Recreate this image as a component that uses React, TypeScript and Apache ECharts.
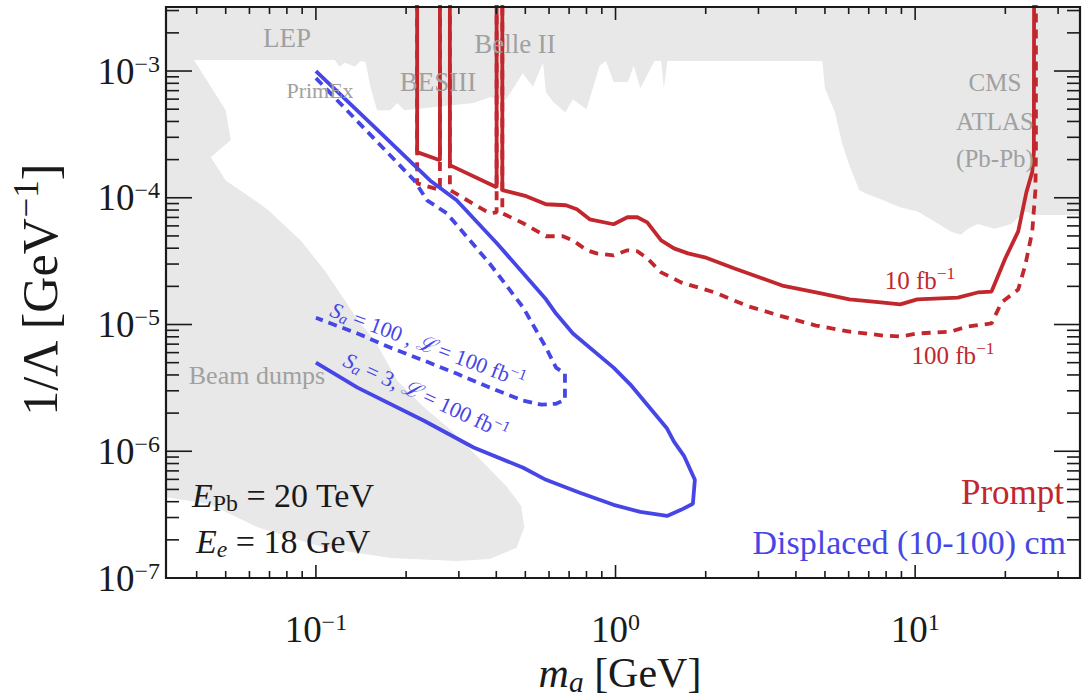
import { useEffect, useRef } from 'react';
import * as echarts from 'echarts';

const SERIF = '"Liberation Serif", "Times New Roman", serif';
const RED = '#c1272d';
const BLUE = '#4646e6';
const GRAY_FILL = '#e8e8e8';
const GRAY_TEXT = '#a0a0a0';
const INK = '#1a1a1a';

const X_MIN = 0.0316;
const X_MAX = 35.5;
const Y_MIN = 1e-7;
const Y_MAX = 3.2e-3;
const OFF_TOP = 0.02; // resonance spikes run off the top

const xMajorTicks = [0.1, 1, 10];
const xMinorTicks = [0.04, 0.05, 0.06, 0.07, 0.08, 0.09, 0.2, 0.3, 0.4, 0.5, 0.6, 0.7, 0.8, 0.9, 2, 3, 4, 5, 6, 7, 8, 9, 20, 30];
const yMajorTicks = [1e-7, 1e-6, 1e-5, 1e-4, 1e-3];
const yMinorTicks = [
  2e-7, 3e-7, 4e-7, 5e-7, 6e-7, 7e-7, 8e-7, 9e-7,
  2e-6, 3e-6, 4e-6, 5e-6, 6e-6, 7e-6, 8e-6, 9e-6,
  2e-5, 3e-5, 4e-5, 5e-5, 6e-5, 7e-5, 8e-5, 9e-5,
  2e-4, 3e-4, 4e-4, 5e-4, 6e-4, 7e-4, 8e-4, 9e-4,
  2e-3, 3e-3,
];

// Excluded region (LEP, PrimEx, BESIII, Belle II, CMS/ATLAS Pb-Pb, beam dumps)
const excludedRegion: [number, number][] = [
  [0.02, 0.005], [50, 0.005], [50, 7.3e-5], [25.2, 7.3e-5], [23.3, 7.8e-5], [20.9, 6.2e-5],
  [18.4, 5.7e-5], [16.2, 6.2e-5], [15.0, 5.7e-5], [14.2, 5.1e-5], [13.2, 5.4e-5], [11.6, 6.5e-5],
  [10.2, 7.8e-5], [8.9, 8.4e-5], [7.8, 9.6e-5], [6.9, 1.07e-4], [6.5, 1.15e-4], [6.0, 1.87e-4],
  [5.7, 2.7e-4], [5.4, 4.7e-4], [5.0, 7.3e-4], [4.9, 1.2e-3], [1.49, 1.2e-3], [1.45, 7.3e-4],
  [1.42, 1.2e-3], [1.35, 1.2e-3], [1.21, 7.3e-4], [1.15, 1.1e-3], [1.10, 8.2e-4], [0.985, 8.2e-4],
  [0.93, 1.2e-3], [0.885, 1.1e-3], [0.80, 5.0e-4], [0.72, 6.0e-4], [0.68, 4.7e-4], [0.62, 5.7e-4],
  [0.586, 6.8e-4], [0.573, 1.16e-3], [0.53, 7.5e-4], [0.49, 9.6e-4], [0.467, 8.0e-4], [0.43, 5.9e-4],
  [0.38, 6.2e-4], [0.336, 5.6e-4], [0.197, 4.9e-4], [0.187, 5.6e-4], [0.177, 4.9e-4], [0.160, 4.9e-4],
  [0.152, 7.5e-4], [0.1465, 1.18e-3], [0.141, 1.2e-3], [0.135, 1.08e-3], [0.125, 1.16e-3], [0.120, 1.08e-3],
  [0.1156, 1.22e-3], [0.0392, 1.22e-3], [0.050, 4.9e-4], [0.052, 2.85e-4], [0.0446, 2.09e-4], [0.050, 1.37e-4],
  [0.0623, 9.6e-5], [0.0693, 8.0e-5], [0.089, 4.6e-5], [0.107, 2.67e-5], [0.125, 1.55e-5], [0.138, 1.08e-5],
  [0.157, 7.5e-6], [0.187, 3.6e-6], [0.226, 2.3e-6], [0.284, 1.45e-6], [0.357, 8.4e-7], [0.4325, 5.3e-7],
  [0.4845, 3.7e-7], [0.496, 2.5e-7], [0.467, 1.73e-7], [0.38, 1.41e-7], [0.295, 1.36e-7], [0.177, 1.44e-7],
  [0.107, 1.73e-7], [0.0643, 2.5e-7], [0.0439, 3.85e-7], [0.02, 5.1e-7],
];

// Prompt, 10 fb^-1 (solid red)
const prompt10fb: [number, number][] = [
  [0.2177, OFF_TOP], [0.2177, 2.29e-4], [0.2594, 1.98e-4], [0.2594, OFF_TOP], [0.280, OFF_TOP], [0.280, 1.81e-4],
  [0.401, 1.21e-4], [0.401, OFF_TOP], [0.419, OFF_TOP], [0.419, 1.15e-4], [0.5035, 1.03e-4], [0.586, 8.89e-5],
  [0.683, 8.73e-5], [0.743, 8.11e-5], [0.820, 6.76e-5], [0.985, 6.18e-5], [1.096, 7.02e-5], [1.183, 7.02e-5],
  [1.276, 6.40e-5], [1.42, 4.61e-5], [1.567, 3.99e-5], [1.745, 3.64e-5], [1.986, 3.39e-5], [2.497, 2.77e-5],
  [3.60, 2.03e-5], [4.67, 1.79e-5], [6.04, 1.58e-5], [7.83, 1.49e-5], [8.92, 1.44e-5], [10.16, 1.58e-5],
  [13.88, 1.63e-5], [16.17, 1.79e-5], [17.99, 1.82e-5], [20.0, 3.33e-5], [22.08, 5.43e-5], [23.5, 1.1e-4],
  [24.6, 1.6e-4], [24.9, 2.3e-4], [24.97, OFF_TOP],
];

// Prompt, 100 fb^-1 (dotted red)
const prompt100fb: [number, number][] = [
  [0.2177, OFF_TOP], [0.2177, 1.30e-4], [0.2594, 1.15e-4], [0.2594, OFF_TOP], [0.280, OFF_TOP], [0.280, 1.15e-4],
  [0.380, 7.54e-5], [0.401, 7.68e-5], [0.401, OFF_TOP], [0.419, OFF_TOP], [0.419, 7.54e-5], [0.492, 6.29e-5],
  [0.586, 4.97e-5], [0.6675, 4.97e-5], [0.721, 4.61e-5], [0.802, 3.85e-5], [0.865, 3.64e-5], [0.985, 3.51e-5],
  [1.096, 3.85e-5], [1.183, 3.78e-5], [1.276, 3.33e-5], [1.42, 2.58e-5], [1.654, 2.15e-5], [2.143, 1.79e-5],
  [2.778, 1.39e-5], [3.60, 1.16e-5], [4.67, 9.81e-6], [6.04, 8.80e-6], [7.83, 8.18e-6], [8.92, 8.04e-6],
  [10.16, 8.49e-6], [13.15, 8.80e-6], [14.97, 9.64e-6], [17.99, 1.02e-5], [19.41, 1.49e-5], [22.08, 1.89e-5],
  [23.3, 2.92e-5], [24.6, 5.43e-5], [25.2, 1.15e-4], [25.3, 2.4e-4], [25.3, OFF_TOP],
];

// Displaced (10-100) cm, S_a = 3, L = 100 fb^-1 (solid blue contour)
const displacedSa3: [number, number][] = [
  [0.1, 1.0e-3], [0.1545, 3.74e-4], [0.2404, 1.37e-4], [0.295, 9.55e-5], [0.401, 4.4e-5], [0.586, 1.58e-5],
  [0.633, 1.22e-5], [0.721, 8.49e-6], [0.985, 4.57e-6], [1.121, 3.36e-6], [1.486, 1.51e-6], [1.567, 1.19e-6],
  [1.692, 9.21e-7], [1.84, 5.95e-7], [1.812, 3.85e-7], [1.654, 3.45e-7], [1.486, 3.09e-7], [1.21, 3.32e-7],
  [0.985, 3.78e-7], [0.760, 4.70e-7], [0.586, 5.95e-7], [0.492, 7.41e-7], [0.336, 1.07e-6], [0.2296, 1.74e-6],
  [0.1377, 3.18e-6], [0.1, 5.0e-6],
];

// Displaced (10-100) cm, S_a = 100, L = 100 fb^-1 (dashed blue contour)
const displacedSa100: [number, number][] = [
  [0.1, 8.8e-4], [0.213, 1.37e-4], [0.235, 9.55e-5], [0.2735, 7.54e-5], [0.380, 3.03e-5], [0.492, 1.36e-5],
  [0.586, 6.58e-6], [0.633, 4.57e-6], [0.678, 4.10e-6], [0.678, 2.55e-6], [0.633, 2.37e-6], [0.565, 2.33e-6],
  [0.492, 2.51e-6], [0.380, 3.18e-6], [0.295, 4.10e-6], [0.2296, 5.19e-6], [0.177, 6.58e-6], [0.1377, 8.49e-6],
  [0.1, 1.13e-5],
];

const supFmt = (v: number) => {
  const e = Math.log10(v);
  const r = Math.round(e);
  if (Math.abs(e - r) > 1e-6) return '';
  return `{b|10}{s|${r < 0 ? '\u2212' + -r : r}}`;
};

const tickRich = {
  b: { fontSize: 37, fontFamily: SERIF, color: INK },
  s: { fontSize: 24, fontFamily: SERIF, color: INK, padding: [0, 0, 15, 0] },
};

const mathRich = (size: number, color: string) => ({
  i: { fontSize: size, fontFamily: SERIF, fontStyle: 'italic', fill: color, color },
  sub: { fontSize: size * 0.7, fontFamily: SERIF, fill: color, color, padding: [size * 0.45, 0, 0, 0] },
  isub: { fontSize: size * 0.7, fontFamily: SERIF, fontStyle: 'italic', fill: color, color, padding: [size * 0.45, 0, 0, 0] },
  sup: { fontSize: size * 0.7, fontFamily: SERIF, fill: color, color, padding: [0, 0, size * 0.55, 0] },
  cal: { fontSize: size, fontFamily: '"DejaVu Serif", serif', fontStyle: 'italic', fill: color, color },
  n: { fontSize: size, fontFamily: SERIF, fill: color, color },
});

const label = (x: number, y: number, text: string, size: number, color: string, align = 'center', rotation = 0) => ({
  type: 'text',
  x,
  y,
  rotation,
  z: 100,
  silent: true,
  style: {
    text,
    fill: color,
    fontSize: size,
    fontFamily: SERIF,
    align,
    verticalAlign: 'middle',
    rich: mathRich(size, color),
  },
});

export default function App() {
  const ref = useRef<HTMLDivElement>(null);

  useEffect(() => {
    if (!ref.current) return;
    const chart = echarts.init(ref.current, null, { renderer: 'svg' });

    const lineBase = { type: 'line', symbol: 'none', showSymbol: false, clip: true, silent: true, z: 3 };

    chart.setOption({
      animation: false,
      backgroundColor: '#ffffff',
      grid: { left: 166, top: 7, right: -6, bottom: 119, containLabel: false },
      xAxis: {
        type: 'log',
        logBase: 10,
        min: X_MIN,
        max: X_MAX,
        axisLine: { show: false },
        axisTick: { show: false },
        splitLine: { show: false },
        axisLabel: { formatter: supFmt, rich: tickRich, margin: 32, color: INK },
      },
      yAxis: {
        type: 'log',
        logBase: 10,
        min: Y_MIN,
        max: Y_MAX,
        axisLine: { show: false },
        axisTick: { show: false },
        splitLine: { show: false },
        axisLabel: { formatter: supFmt, rich: tickRich, margin: 6, color: INK },
      },
      series: [
        {
          type: 'custom',
          name: 'excluded',
          silent: true,
          clip: true,
          z: 1,
          data: [[1, 1e-5]],
          encode: { x: 0, y: 1 },
          renderItem: (params: any, api: any) => ({
            type: 'polygon',
            shape: { points: excludedRegion.map((p) => api.coord(p)) },
            style: { fill: GRAY_FILL, stroke: 'none' },
          }),
        },
        { ...lineBase, name: 'Prompt 10 fb-1', data: prompt10fb, lineStyle: { color: RED, width: 3.8 } },
        { ...lineBase, name: 'Prompt 100 fb-1', data: prompt100fb, lineStyle: { color: RED, width: 3.8, type: [9, 7] } },
        { ...lineBase, name: 'Displaced Sa=3', data: displacedSa3, lineStyle: { color: BLUE, width: 3.8 } },
        { ...lineBase, name: 'Displaced Sa=100', data: displacedSa100, lineStyle: { color: BLUE, width: 3.8, type: [9, 6] } },
        {
          type: 'custom',
          name: 'xticks',
          silent: true,
          z: 10,
          data: [...xMajorTicks.map((v) => [v, 1e-5, 1]), ...xMinorTicks.map((v) => [v, 1e-5, 0])],
          encode: { x: 0, y: 1 },
          renderItem: (params: any, api: any) => {
            const cs = params.coordSys;
            const px = api.coord([api.value(0), api.value(1)])[0];
            const len = api.value(2) === 1 ? 13 : 7;
            const b = cs.y + cs.height;
            const st = { stroke: INK, lineWidth: 1.6 };
            return {
              type: 'group',
              children: [
                { type: 'line', shape: { x1: px, y1: b, x2: px, y2: b - len }, style: st },
                { type: 'line', shape: { x1: px, y1: cs.y, x2: px, y2: cs.y + len }, style: st },
              ],
            };
          },
        },
        {
          type: 'custom',
          name: 'yticks',
          silent: true,
          z: 10,
          data: [...yMajorTicks.map((v) => [1, v, 1]), ...yMinorTicks.map((v) => [1, v, 0])],
          encode: { x: 0, y: 1 },
          renderItem: (params: any, api: any) => {
            const cs = params.coordSys;
            const py = api.coord([api.value(0), api.value(1)])[1];
            const len = api.value(2) === 1 ? 26 : 13;
            const r = cs.x + cs.width;
            const st = { stroke: INK, lineWidth: 1.6 };
            return {
              type: 'group',
              children: [
                { type: 'line', shape: { x1: cs.x, y1: py, x2: cs.x + len, y2: py }, style: st },
                { type: 'line', shape: { x1: r, y1: py, x2: r - len, y2: py }, style: st },
              ],
            };
          },
        },
        {
          type: 'custom',
          name: 'frame',
          silent: true,
          z: 11,
          data: [[1, 1e-5]],
          encode: { x: 0, y: 1 },
          renderItem: (params: any) => {
            const cs = params.coordSys;
            return {
              type: 'rect',
              shape: { x: cs.x, y: cs.y, width: cs.width, height: cs.height },
              style: { fill: 'none', stroke: INK, lineWidth: 2.2 },
            };
          },
        },
      ],
      graphic: [
        label(287, 38, 'LEP', 27, GRAY_TEXT),
        label(515, 44, 'Belle II', 27, GRAY_TEXT),
        label(438, 82, 'BESIII', 27, GRAY_TEXT),
        label(320, 90, 'PrimEx', 22, GRAY_TEXT),
        label(995, 82, 'CMS', 25, GRAY_TEXT),
        label(995, 121, 'ATLAS', 25, GRAY_TEXT),
        label(995, 158, '(Pb-Pb)', 25, GRAY_TEXT),
        label(257, 375, 'Beam dumps', 26, GRAY_TEXT),
        label(920, 280, '10 fb{sup|\u22121}', 25, RED),
        label(953, 355, '100 fb{sup|\u22121}', 25, RED),
        label(428, 345, '{i|S}{isub|a} = 100 , {cal|\u2112} = 100 fb{sup|\u22121}', 22, BLUE, 'center', -0.36),
        label(426, 396, '{i|S}{isub|a} = 3, {cal|\u2112} = 100 fb{sup|\u22121}', 22, BLUE, 'center', -0.43),
        label(192, 495, '{i|E}{sub|Pb} = 20 TeV', 34, INK, 'left'),
        label(196, 541, '{i|E}{isub|e} = 18 GeV', 34, INK, 'left'),
        label(1064, 492, 'Prompt', 35, RED, 'right'),
        label(1066, 542, 'Displaced (10-100) cm', 34, BLUE, 'right'),
        label(620, 673, '{i|m}{isub|a} [GeV]', 42, INK),
        label(40, 290, '1/\u039b [GeV{sup|\u22121}]', 50, INK, 'center', Math.PI / 2),
      ],
    });

    return () => chart.dispose();
  }, []);

  return <div ref={ref} style={{ position: 'absolute', left: 0, top: 0, width: 1083, height: 697 }} />;
}
